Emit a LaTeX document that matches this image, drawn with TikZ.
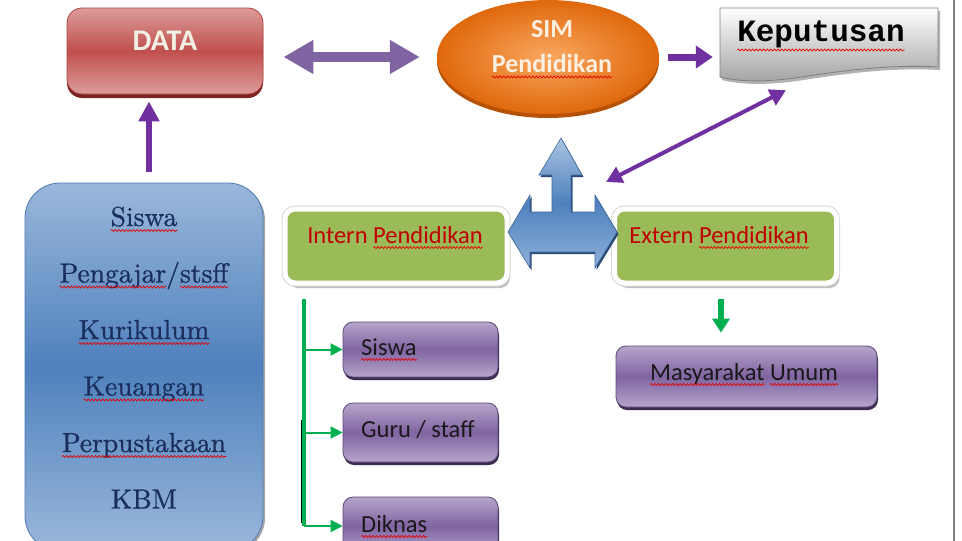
\documentclass[tikz,border=0pt]{standalone}
\usepackage{fontspec}
\newfontfamily\calfont{Carlito}
\newfontfamily\kepfont{Liberation Mono}
\newfontfamily\srcfont{lmroman10-regular.otf}[FakeBold=0.9]
\usetikzlibrary{arrows.meta,calc,shadows,decorations.pathmorphing,shapes.geometric}
\definecolor{dataL}{HTML}{DC9C9A}
\definecolor{dataM}{HTML}{C0504D}
\definecolor{dataB}{HTML}{B0433F}
\definecolor{dataS}{HTML}{7A2522}
\definecolor{dataT}{HTML}{F2F0E4}
\definecolor{simL}{HTML}{F9A860}
\definecolor{simD}{HTML}{E0680C}
\definecolor{simS}{HTML}{B55206}
\definecolor{simT}{HTML}{FBEFE0}
\definecolor{kepB}{HTML}{7F7F7F}
\definecolor{kepD}{HTML}{A3A3A3}
\definecolor{srcL}{HTML}{9AB7DA}
\definecolor{srcM}{HTML}{4F81BD}
\definecolor{srcB}{HTML}{4A7AB5}
\definecolor{navy}{HTML}{1B2F5E}
\definecolor{grn}{HTML}{9BBB59}
\definecolor{redT}{HTML}{C00000}
\definecolor{purpL}{HTML}{B5A5CA}
\definecolor{purpM}{HTML}{8064A2}
\definecolor{purpB}{HTML}{5F497A}
\definecolor{purpS}{HTML}{3C2D50}
\definecolor{blkP}{HTML}{8064A2}
\definecolor{purp}{HTML}{7030A0}
\definecolor{grnA}{HTML}{00B050}
\definecolor{triL}{HTML}{A9C3E3}
\definecolor{triM}{HTML}{4F81BD}
\definecolor{triBt}{HTML}{8FB0DA}
\definecolor{triD}{HTML}{3B669B}
\definecolor{triS}{HTML}{2A4A75}
\tikzset{
  squig/.style={draw=red!90!black, line width=0.7pt, decorate,
    decoration={snake, amplitude=1pt, segment length=3.6pt}},
  databox/.style={rounded corners=15pt, minimum width=196pt, minimum height=86pt,
    draw=dataB, line width=0.8pt, top color=dataL, bottom color=dataL, middle color=dataM,
    drop shadow={shadow xshift=0pt, shadow yshift=-4pt, fill=dataS, opacity=1}},
  datatxt/.style={inner sep=0pt, text=dataT, font=\calfont\bfseries\fontsize{30}{34}\selectfont},
  simell/.style={ellipse, minimum width=222pt, minimum height=114pt, inner color=simL, outer color=simD,
    drop shadow={shadow xshift=0pt, shadow yshift=-4pt, fill=simS, opacity=1}},
  simtxt/.style={inner sep=0pt, anchor=base, text=simT, font=\calfont\bfseries\fontsize{26}{30}\selectfont},
  kepshape/.style={draw=kepB, line width=0.8pt, top color=white, bottom color=kepD,
    drop shadow={shadow xshift=2pt, shadow yshift=-3pt, fill=black!30, opacity=1}},
  keptxt/.style={inner sep=0pt, anchor=base, text=black, font=\kepfont\bfseries\fontsize{31}{34}\selectfont},
  srcbox/.style={rounded corners=35pt, minimum width=238pt, minimum height=368pt,
    draw=srcB, line width=0.8pt, top color=srcL, bottom color=srcL, middle color=srcM,
    drop shadow={shadow xshift=2pt, shadow yshift=-2pt, fill=black!35, opacity=1}},
  srctxt/.style={inner sep=0pt, anchor=base, text=navy, font=\srcfont\fontsize{27.5}{30}\selectfont},
  greenbox/.style={rounded corners=10pt, minimum width=222pt, minimum height=74pt,
    fill=grn, draw=white, line width=5pt,
    drop shadow={shadow xshift=3pt, shadow yshift=-5pt, fill=black!25, opacity=1},
    preaction={draw=black!15, line width=7pt}},
  greentxt/.style={inner sep=0pt, anchor=base, text=redT, font=\calfont\fontsize{24.5}{28}\selectfont},
  purpbox/.style={rounded corners=10pt, draw=purpB, line width=0.8pt,
    top color=purpL, bottom color=purpL, middle color=purpM,
    drop shadow={shadow xshift=1pt, shadow yshift=-3pt, fill=purpS, opacity=1}},
  purptxt/.style={inner sep=0pt, anchor=base west, text=black!90, font=\calfont\fontsize{24.5}{28}\selectfont},
  triarrow/.style={draw=triD, line width=0.6pt, top color=triL, bottom color=triBt, middle color=triM,
    drop shadow={shadow xshift=1.5pt, shadow yshift=-2pt, fill=triS, opacity=1}},
  blockarrow/.style={draw=blkP, line width=10pt,
    {Triangle[length=30pt,width=32pt]}-{Triangle[length=30pt,width=32pt]}},
  parrow/.style={draw=purp, line width=7pt, -{Triangle[length=17pt,width=22pt]}},
  uparrow/.style={draw=purp, line width=6pt, -{Triangle[length=20pt,width=20pt]}},
  dblarrow/.style={draw=purp, line width=4pt,
    {Triangle[length=16pt,width=17pt]}-{Triangle[length=16pt,width=17pt]}},
  trunk/.style={draw=grnA, line width=4pt},
  branch/.style={draw=grnA, line width=2pt, -{Triangle[length=12pt,width=12pt]}},
  garrow/.style={draw=grnA, line width=6pt, -{Triangle[length=14pt,width=17pt]}}
}
\newcommand\sqw[2][4.5pt]{\tikz[baseline=(sqwn.base)]{\node[inner sep=0pt,outer sep=0pt,anchor=base](sqwn){#2};\draw[squig,overlay]([yshift=-#1]sqwn.base west)--([yshift=-#1]sqwn.base east);}}
\begin{document}
\begin{tikzpicture}[x=1pt,y=-1pt]
\useasboundingbox (0,0) rectangle (962,541);
\clip (0,0) rectangle (962,541);
\fill[white] (0,0) rectangle (962,541);
% right frame line
\draw[kepB, line width=1.5pt] (954,-5) -- (954,546);

% DATA
\node[databox] (data) at (165,51) {};
\node[datatxt, anchor=base] (datat) at (165,50) {DATA};

% SIM Pendidikan
\node[simell] (sim) at (548,57) {};
\node[simtxt] (simt1) at (552,37) {SIM};
\node[simtxt] (simt2) at (552,72) {\sqw[5pt]{Pendidikan}};

% Keputusan
\path[kepshape] (720,8) -- (938,8) -- (938,67) .. controls (885,64) and (835,72) .. (795,78)
   .. controls (765,82) and (740,82) .. (720,77) -- cycle;
\node[inner sep=0pt, minimum width=218pt, minimum height=72pt] (kep) at (829,44) {};
\node[keptxt] (kept) at (821,41) {\sqw[9pt]{Keputusan}};

% DATA <-> SIM
\coordinate (dsA) at ($(data.east |- sim.west)+(20,0)$);
\coordinate (dsB) at ($(sim.west)+(-17,0)$);
\draw[blockarrow] (dsA) -- (dsB);

% SIM -> Keputusan
\draw[parrow] ($(sim.east)+(9,0)$) -- ($(kep.west |- sim.east)+(-7,0)$);

% source list
\node[srcbox] (src) at (144,367) {};
\node[srctxt] (s1) at (144,226) {\sqw{Siswa}};
\node[srctxt] (s2) at (144,282.5) {\sqw{Pengajar}/\sqw{stsff}};
\node[srctxt] (s3) at (144,339) {\sqw{Kurikulum}};
\node[srctxt] (s4) at (144,395.5) {\sqw{Keuangan}};
\node[srctxt] (s5) at (144,452) {\sqw{Perpustakaan}};
\node[srctxt] (s6) at (144,508.5) {KBM};

% src -> DATA
\draw[uparrow] ($(src.north)+(5,-11)$) -- ($(data.south)+(-16,7)$);

% green boxes
\node[greenbox] (intern) at (396,246) {};
\node[greentxt] (intt) at (395,243) {Intern \sqw{Pendidikan}};
\node[greenbox] (extern) at (725.5,246) {};
\node[greentxt] (extt) at (719,243) {Extern \sqw{Pendidikan}};

% three-way arrow
\path[triarrow] (561,138) -- (582,175) -- (571,175) -- (571,212) -- (595,212) -- (595,195)
  -- (617,232) -- (595,268) -- (595,252) -- (530,252) -- (530,268) -- (508,232)
  -- (530,195) -- (530,212) -- (552,212) -- (552,175) -- (539,175) -- cycle;
\coordinate (triNE) at (606,182);

% Keputusan <-> three-way arrow
\draw[dblarrow] ($(kep.south)+(-43,10)$) -- (triNE);

% purple boxes
\node[purpbox, minimum width=155pt, minimum height=55pt] (siswa) at (420.5,349.5) {};
\node[purptxt] (siswat) at (361,355) {\sqw{Siswa}};
\node[purpbox, minimum width=155pt, minimum height=59pt] (guru) at (420.5,432.5) {};
\node[purptxt] (gurut) at (361,437) {Guru / staff};
\node[purpbox, minimum width=155pt, minimum height=58pt] (diknas) at (420.5,526) {};
\node[purptxt] (diknast) at (361,532) {\sqw{Diknas}};
\node[purpbox, minimum width=261pt, minimum height=61pt] (masy) at (746.5,376.5) {};
\node[purptxt, anchor=base] (masyt) at (744,380) {\sqw{Masyarakat} \sqw{Umum}};

% green tree
\coordinate (trunkT) at ($(intern.south west)+(21,13)$);
\draw[trunk] (trunkT) -- (trunkT |- diknas.west);
\draw[black, line width=1pt] ($(trunkT)+(-1.8,121)$) -- ($(trunkT |- diknas.west)+(-1.8,-3)$);
\draw[branch] (trunkT |- siswa.west) -- (siswa.west);
\draw[branch] (trunkT |- guru.west) -- (guru.west);
\draw[branch] (trunkT |- diknas.west) -- (diknas.west);

% extern -> masyarakat
\draw[garrow] ($(extern.south)+(-4.5,13)$) -- ($(masy.north)+(-25.5,-13)$);
\end{tikzpicture}
\end{document}
